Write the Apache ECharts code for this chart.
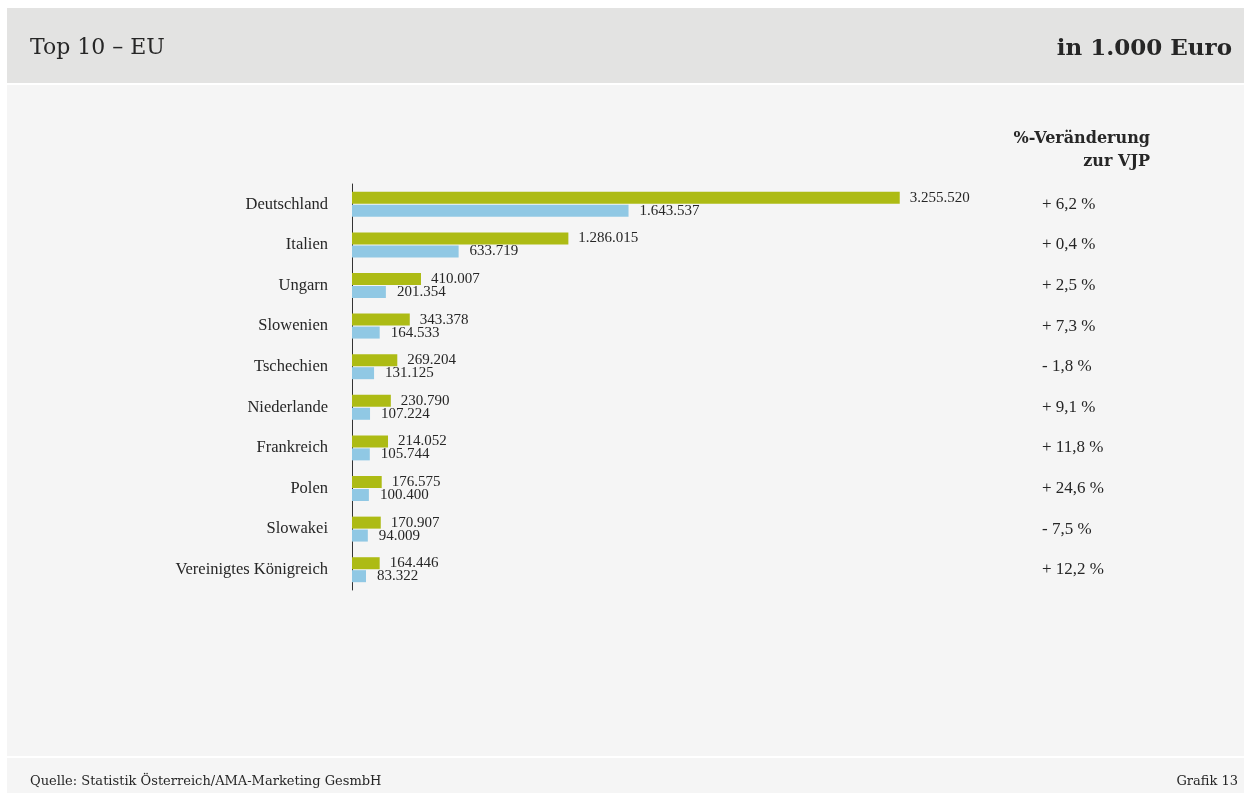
<!DOCTYPE html>
<html>
<head>
<meta charset="utf-8">
<style>
  html, body { margin: 0; padding: 0; background: #ffffff; }
  #chart { width: 1244px; height: 793px; }
</style>
<script src="https://cdn.jsdelivr.net/npm/echarts@6/dist/echarts.min.js"></script>
</head>
<body>
<div id="chart"></div>
<script>
// Top 10 EU destinations, values in 1.000 Euro
const countries = ['Deutschland', 'Italien', 'Ungarn', 'Slowenien', 'Tschechien',
  'Niederlande', 'Frankreich', 'Polen', 'Slowakei', 'Vereinigtes Königreich'];
const valuesGreen = [3255520, 1286015, 410007, 343378, 269204, 230790, 214052, 176575, 170907, 164446];
const valuesBlue = [1643537, 633719, 201354, 164533, 131125, 107224, 105744, 100400, 94009, 83322];
// change against previous year, in percent
const changePct = [6.2, 0.4, 2.5, 7.3, -1.8, 9.1, 11.8, 24.6, -7.5, 12.2];

const SERIF = '"Liberation Serif", "DejaVu Serif", serif';
const WIDE_SERIF = '"DejaVu Serif", "Liberation Serif", serif';
const TEXT = '#262626';

function fmtThousands(v) {
  return String(v).replace(/\B(?=(\d{3})+(?!\d))/g, '.');
}
function fmtPct(p) {
  const sign = p < 0 ? '-' : '+';
  return sign + ' ' + Math.abs(p).toFixed(1).replace('.', ',') + ' %';
}

const chart = echarts.init(document.getElementById('chart'), null, { renderer: 'canvas' });

chart.setOption({
  backgroundColor: '#ffffff',
  animation: false,
  graphic: [
    // header band
    { type: 'rect', z: -10, shape: { x: 7, y: 8, width: 1237, height: 75 }, style: { fill: '#e3e3e2' } },
    // chart body
    { type: 'rect', z: -10, shape: { x: 7, y: 85, width: 1237, height: 671 }, style: { fill: '#f5f5f5' } },
    // footer band
    { type: 'rect', z: -10, shape: { x: 7, y: 758, width: 1237, height: 35 }, style: { fill: '#f5f5f5' } }
  ],
  title: [
    { text: 'Top 10 – EU', left: 30, top: 37, padding: 0,
      textStyle: { fontFamily: WIDE_SERIF, fontSize: 22, fontWeight: 'normal', color: TEXT } },
    { text: 'in 1.000 Euro', right: 12, top: 38, padding: 0,
      textStyle: { fontFamily: WIDE_SERIF, fontSize: 23, fontWeight: 'bold', color: TEXT } },
    { text: '%-Veränderung', right: 94, top: 131, padding: 0,
      textStyle: { fontFamily: WIDE_SERIF, fontSize: 16, fontWeight: 'bold', color: TEXT } },
    { text: 'zur VJP', right: 94, top: 154, padding: 0,
      textStyle: { fontFamily: WIDE_SERIF, fontSize: 16, fontWeight: 'bold', color: TEXT } },
    { text: 'Quelle: Statistik Österreich/AMA-Marketing GesmbH', left: 30, top: 775, padding: 0,
      textStyle: { fontFamily: WIDE_SERIF, fontSize: 13, fontWeight: 'normal', color: TEXT } },
    { text: 'Grafik 13', right: 6, top: 775, padding: 0,
      textStyle: { fontFamily: WIDE_SERIF, fontSize: 13, fontWeight: 'normal', color: TEXT } }
  ],
  grid: { left: 352, top: 184, width: 673, height: 406, containLabel: false },
  xAxis: {
    type: 'value', min: 0, max: 4000000,
    show: false
  },
  yAxis: [
    {
      type: 'category', data: countries, inverse: true, position: 'left',
      axisLine: { show: true, lineStyle: { color: '#333333', width: 1 } },
      axisTick: { show: false },
      axisLabel: { margin: 24, fontFamily: SERIF, fontSize: 16.5, color: TEXT }
    },
    {
      type: 'category', data: changePct.map(fmtPct), inverse: true, position: 'right',
      axisLine: { show: false }, axisTick: { show: false },
      axisLabel: { margin: 17, align: 'left', fontFamily: SERIF, fontSize: 17, color: TEXT }
    }
  ],
  series: [
    {
      name: 'Exportwert', type: 'bar', yAxisIndex: 0, data: valuesGreen,
      barWidth: 12, barGap: '8%',
      itemStyle: { color: '#adbb14' },
      label: { show: true, position: 'right', distance: 10, fontFamily: SERIF, fontSize: 15, color: TEXT,
        formatter: p => fmtThousands(p.value) }
    },
    {
      name: 'Vergleichswert', type: 'bar', yAxisIndex: 0, data: valuesBlue,
      barWidth: 12, barGap: '8%',
      itemStyle: { color: '#90c8e4' },
      label: { show: true, position: 'right', distance: 11, fontFamily: SERIF, fontSize: 15, color: TEXT,
        formatter: p => fmtThousands(p.value) }
    }
  ]
});
</script>
</body>
</html>
